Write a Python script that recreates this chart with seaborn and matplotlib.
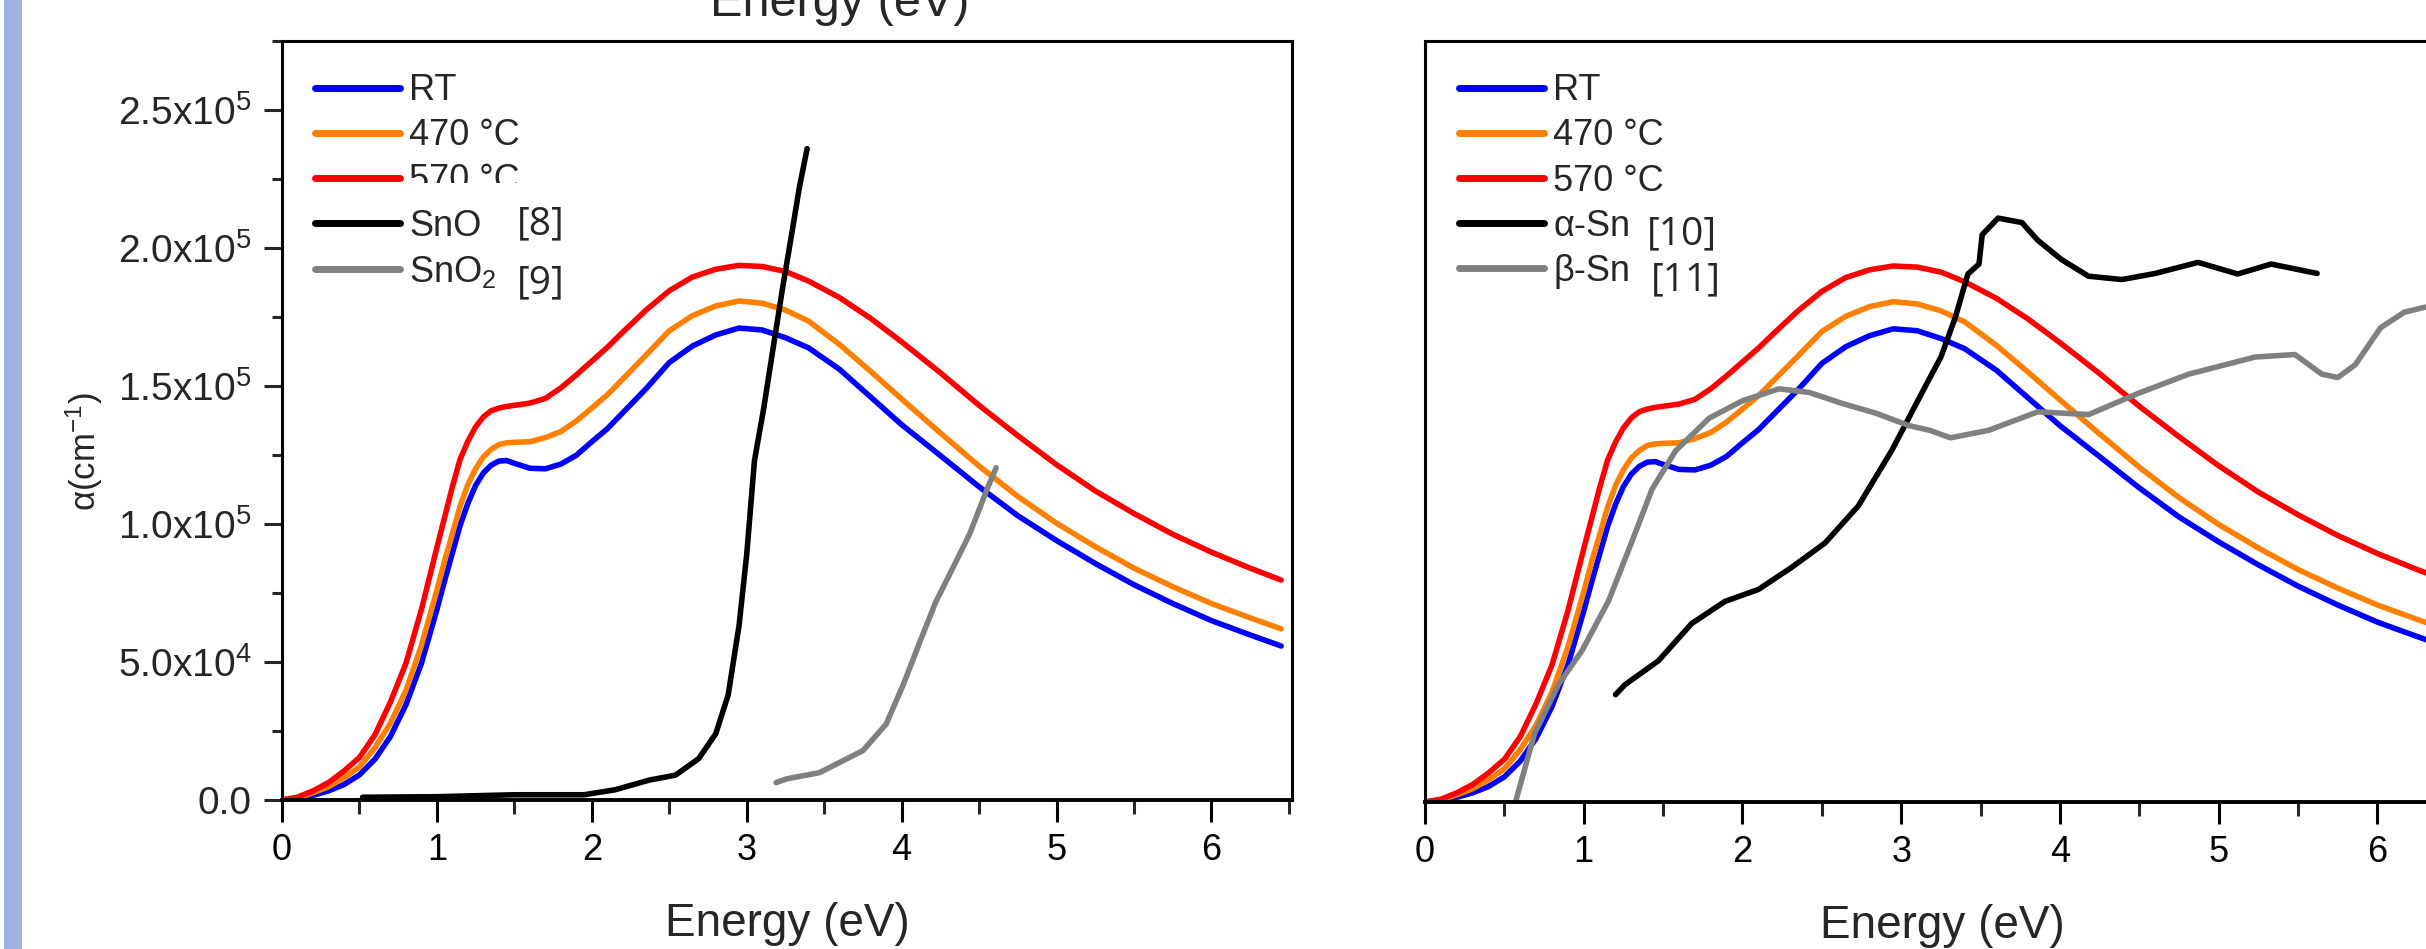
import matplotlib.pyplot as plt
import matplotlib.patches as mpatches
from matplotlib.ticker import AutoMinorLocator
import seaborn as sns
import pandas as pd

# Absorption coefficient of the films (alpha in 1e3 cm^-1) vs photon energy (eV)
energy = [0, 0.1, 0.2, 0.3, 0.4, 0.5, 0.6, 0.7, 0.8, 0.9, 1.0, 1.05, 1.1, 1.15, 1.2, 1.25,
          1.3, 1.35, 1.4, 1.45, 1.5, 1.6, 1.7, 1.8, 1.9, 2.0, 2.1, 2.2, 2.35, 2.5, 2.65, 2.8,
          2.95, 3.1, 3.25, 3.4, 3.6, 3.8, 4.0, 4.25, 4.5, 4.75, 5.0, 5.25, 5.5, 5.75, 6.0, 6.25, 6.45]
rt = [0, 0.5, 1.7, 3.3, 5.6, 9.1, 14.8, 23, 34.5, 49.5, 69, 79.5, 89.5, 99.5, 107.5, 114,
      118.5, 121.3, 122.8, 123, 122, 120.2, 120, 121.7, 124.9, 129.8, 134.5, 140.3, 149, 158.5, 164.5, 168.5,
      171, 170.3, 167.5, 163.8, 156, 146, 136, 124.8, 113.5, 103, 94, 85.7, 78, 71.2, 65, 59.8, 55.8]
t470 = [0, 0.8, 2.6, 4.8, 8, 12, 18.9, 27.8, 39.7, 56, 76, 86.8, 96.5, 106.5, 114.3, 120,
        124.3, 127, 128.8, 129.4, 129.6, 129.8, 131.3, 133.5, 137.3, 142, 146.8, 152.5, 161.2, 170, 175.5, 179,
        180.8, 180, 177.5, 173.5, 165, 155.3, 145.3, 133, 121, 110, 100.3, 91.8, 84, 77.3, 71.2, 66, 62]
t570 = [0, 1, 3.3, 6.3, 10.5, 15.4, 23.6, 35.5, 49.5, 69, 91.5, 102.5, 113.5, 123.5, 130, 135.2,
        138.8, 141, 142, 142.6, 143, 143.8, 145.5, 149.3, 154, 159, 164, 169.5, 177.5, 184.5, 189.5, 192.3,
        193.7, 193.3, 191.5, 188, 182, 174.5, 166, 154.8, 143, 132, 121.5, 112, 103.8, 96.3, 89.8, 84, 79.7]

# Reference data: tin oxides (left) and tin phases (right)
sno_e = [0.52, 1.0, 1.5, 1.95, 2.15, 2.37, 2.54, 2.69, 2.80, 2.88, 2.95, 3.0, 3.05, 3.11,
         3.16, 3.23, 3.29, 3.34, 3.39]
sno_a = [1.0, 1.2, 1.9, 1.9, 3.7, 7.2, 9.0, 15, 24, 38, 63, 89, 123, 142, 160, 185, 205, 222, 236]
sno2_e = [3.19, 3.26, 3.47, 3.75, 3.90, 4.01, 4.12, 4.22, 4.33, 4.44, 4.55, 4.61]
sno2_a = [6.3, 7.7, 9.9, 17.9, 27.5, 41.7, 57.6, 71.7, 84, 96.5, 112.4, 120.4]

asn_e = [1.20, 1.26, 1.47, 1.68, 1.89, 2.10, 2.31, 2.52, 2.73, 2.94, 3.15, 3.25, 3.34, 3.42,
         3.49, 3.51, 3.61, 3.76, 3.86, 4.01, 4.18, 4.39, 4.60, 4.87, 5.12, 5.33, 5.62]
asn_a = [38.8, 42.4, 51, 64.5, 72.5, 76.8, 84.8, 93.6, 107, 127, 150, 160.8, 175, 190.8,
         194.4, 205, 211, 209.4, 203, 196, 190, 188.8, 191, 195, 190.8, 194.4, 191]
bsn_e = [0.57, 0.69, 0.84, 0.99, 1.155, 1.30, 1.43, 1.58, 1.79, 2.0, 2.23, 2.42, 2.63, 2.84,
         3.05, 3.18, 3.31, 3.55, 3.86, 4.18, 4.49, 4.81, 5.23, 5.48, 5.65, 5.75, 5.86, 6.02,
         6.17, 6.30, 6.5]
bsn_a = [0, 24.7, 42.4, 54.8, 72.5, 93.6, 113, 127, 138.7, 145, 149.3, 148, 144, 140.5,
         136, 134.3, 131.6, 134.3, 141, 140, 147.6, 154.6, 160.8, 161.7, 154.6, 153.4, 158, 171.4,
         177, 178.8, 179.5]

yticks = [0, 50000, 100000, 150000, 200000, 250000]
ytick_labels = ['0.0', r'5.0x10$\mathregular{^4}$', r'1.0x10$\mathregular{^5}$',
                r'1.5x10$\mathregular{^5}$', r'2.0x10$\mathregular{^5}$', r'2.5x10$\mathregular{^5}$']

sns.set_style("ticks")
plt.rcParams['font.family'] = ['Liberation Sans', 'DejaVu Sans']
plt.rcParams['mathtext.fontset'] = 'custom'
plt.rcParams['mathtext.rm'] = 'Liberation Sans'
plt.rcParams['mathtext.it'] = 'Liberation Sans:italic'

films = pd.DataFrame({'E': energy, 'RT': rt, '470': t470, '570': t570})
for c in ['RT', '470', '570']:
    films[c] = films[c] * 1000

fig = plt.figure(figsize=(24.26, 9.49), dpi=100)
W, H = 2426, 949
ax1 = fig.add_axes([282 / W, 1 - 800 / H, 1010 / W, 759 / H])
ax2 = fig.add_axes([1425 / W, 1 - 802 / H, 1035 / W, 761 / H])

lw = 4
film_styles = [('RT', 'RT', '#0000FF'), ('470', '470 °C', '#FF8000'), ('570', '570 °C', '#FF0000')]
refs = {ax1: [(sno_e, sno_a, 'SnO', '#000000'), (sno2_e, sno2_a, 'SnO$\\mathregular{_2}$', '#808080')],
        ax2: [(asn_e, asn_a, 'α-Sn', '#000000'), (bsn_e, bsn_a, 'β-Sn', '#808080')]}

for ax in (ax1, ax2):
    for col, lab, colr in film_styles:
        sns.lineplot(data=films, x='E', y=col, color=colr, lw=lw, label=lab, ax=ax)
    for xe, ya, lab, colr in refs[ax]:
        sns.lineplot(x=xe, y=[v * 1000 for v in ya], color=colr, lw=lw, label=lab, ax=ax)

    ax.set_xlim(0, 6.52)
    ax.set_ylim(0, 275000)
    ax.set_xticks(range(0, 7))
    ax.xaxis.set_minor_locator(AutoMinorLocator(2))
    ax.tick_params(axis='x', which='major', direction='out', length=16, width=2.2,
                   labelsize=26, pad=8, colors='black')
    ax.tick_params(axis='x', which='minor', direction='out', length=10, width=2.2)
    for s in ax.spines.values():
        s.set_visible(True)
        s.set_linewidth(2.2)
        s.set_color('black')
    ax.spines['bottom'].set_linewidth(2.8)
    ax.set_xlabel('Energy (eV)', fontsize=33, labelpad=24)
    ax.set_ylabel('')

    leg = ax.legend(loc='upper left', bbox_to_anchor=(0.033, 0.9575), borderaxespad=0,
                    borderpad=0, frameon=False, fontsize=26, handlelength=2.35,
                    handletextpad=0.25, labelspacing=0.28)
    for h in leg.get_lines():
        h.set_linewidth(5)

ax1.set_yticks(yticks, ytick_labels)
ax1.yaxis.set_minor_locator(AutoMinorLocator(2))
ax1.tick_params(axis='y', which='major', direction='out', length=13, width=2.2,
                labelsize=28, pad=9)
ax1.tick_params(axis='y', which='minor', direction='out', length=7, width=2.2)
ax1.set_ylabel(r'α(cm$\mathregular{^{-1}}$)', fontsize=25)
ax1.yaxis.set_label_coords(-0.175, 0.4585)

ax2.set_yticks([])
ax2.tick_params(axis='y', left=False, labelleft=False)

# reference numbers beside legend entries
ref_font = dict(fontsize=28, family=['Open Sans', 'DejaVu Sans'], va='center', ha='left', zorder=7)
ax1.text(0.2327, 0.759, '[8]', transform=ax1.transAxes, **ref_font)
ax1.text(0.2327, 0.681, '[9]', transform=ax1.transAxes, **ref_font)
ax2.text(0.2145, 0.7464, '[10]', transform=ax2.transAxes, **ref_font)
ax2.text(0.2184, 0.686, '[11]', transform=ax2.transAxes, **ref_font)

# white box clipping the bottom of the '570 °C' label, as in the source figure
ax1.add_patch(mpatches.Rectangle((0.122, 0.7905), 0.133, 0.0225, transform=ax1.transAxes,
                                 facecolor='white', edgecolor='none', zorder=6))

# axis label cut off at the top and slide-side bar
fig.text(840 / W, 1 - 16 / H, 'Energy (eV)', ha='center', va='baseline', fontsize=35)
fig.add_artist(mpatches.Rectangle((4 / W, 0), 18 / W, 1, transform=fig.transFigure,
                                  facecolor='#9FB0E2', edgecolor='none'))

fig.savefig('out.png', dpi=100)
